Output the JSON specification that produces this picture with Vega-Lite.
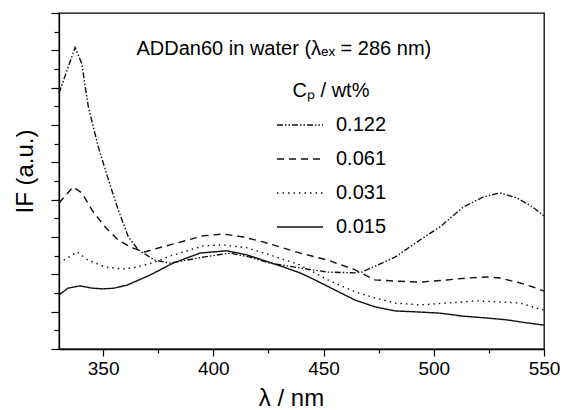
{
  "$schema": "https://vega.github.io/schema/vega-lite/v6.json",
  "width": 485,
  "height": 336,
  "autosize": "none",
  "padding": {"left": 59, "top": 13, "right": 19, "bottom": 61},
  "background": "white",
  "config": {
    "font": "Liberation Sans",
    "view": {"stroke": "#000", "strokeWidth": 1.3},
    "axis": {"domainColor": "#000", "domainWidth": 1.3, "tickColor": "#000", "tickWidth": 1.2, "labelColor": "#000", "titleColor": "#000", "grid": false, "titleFontWeight": "normal"}
  },
  "datasets": {
    "spectra": [
      {"cp": "0.122", "wl": 330, "i": 6.85}, {"cp": "0.122", "wl": 337.3, "i": 8.08}, {"cp": "0.122", "wl": 340.3, "i": 7.65}, {"cp": "0.122", "wl": 343.3, "i": 6.49}, {"cp": "0.122", "wl": 347.8, "i": 5.42}, {"cp": "0.122", "wl": 352.4, "i": 4.53}, {"cp": "0.122", "wl": 356.9, "i": 3.72}, {"cp": "0.122", "wl": 361.4, "i": 3.01}, {"cp": "0.122", "wl": 366, "i": 2.65}, {"cp": "0.122", "wl": 373.5, "i": 2.38}, {"cp": "0.122", "wl": 380.4, "i": 2.30}, {"cp": "0.122", "wl": 395.3, "i": 2.46}, {"cp": "0.122", "wl": 407.6, "i": 2.57}, {"cp": "0.122", "wl": 416.6, "i": 2.46}, {"cp": "0.122", "wl": 425.7, "i": 2.30}, {"cp": "0.122", "wl": 439.3, "i": 2.17}, {"cp": "0.122", "wl": 452, "i": 2.06}, {"cp": "0.122", "wl": 464.3, "i": 2.04}, {"cp": "0.122", "wl": 467.4, "i": 2.06}, {"cp": "0.122", "wl": 482.4, "i": 2.46}, {"cp": "0.122", "wl": 493.7, "i": 2.92}, {"cp": "0.122", "wl": 502.8, "i": 3.27}, {"cp": "0.122", "wl": 513.3, "i": 3.80}, {"cp": "0.122", "wl": 522.3, "i": 4.07}, {"cp": "0.122", "wl": 530, "i": 4.18}, {"cp": "0.122", "wl": 537.7, "i": 4.05}, {"cp": "0.122", "wl": 545, "i": 3.80}, {"cp": "0.122", "wl": 550, "i": 3.56},
      {"cp": "0.061", "wl": 330, "i": 3.91}, {"cp": "0.061", "wl": 336.4, "i": 4.34}, {"cp": "0.061", "wl": 340.4, "i": 4.18}, {"cp": "0.061", "wl": 345, "i": 3.72}, {"cp": "0.061", "wl": 350.9, "i": 3.27}, {"cp": "0.061", "wl": 356.8, "i": 2.92}, {"cp": "0.061", "wl": 363.1, "i": 2.71}, {"cp": "0.061", "wl": 369, "i": 2.60}, {"cp": "0.061", "wl": 373.5, "i": 2.68}, {"cp": "0.061", "wl": 380.4, "i": 2.79}, {"cp": "0.061", "wl": 395.3, "i": 3.03}, {"cp": "0.061", "wl": 404.4, "i": 3.08}, {"cp": "0.061", "wl": 413.5, "i": 3.00}, {"cp": "0.061", "wl": 422.5, "i": 2.87}, {"cp": "0.061", "wl": 431.6, "i": 2.71}, {"cp": "0.061", "wl": 439.3, "i": 2.57}, {"cp": "0.061", "wl": 452, "i": 2.38}, {"cp": "0.061", "wl": 464.3, "i": 2.12}, {"cp": "0.061", "wl": 473.3, "i": 1.85}, {"cp": "0.061", "wl": 482.4, "i": 1.82}, {"cp": "0.061", "wl": 493.7, "i": 1.79}, {"cp": "0.061", "wl": 506, "i": 1.85}, {"cp": "0.061", "wl": 515.1, "i": 1.90}, {"cp": "0.061", "wl": 524.1, "i": 1.93}, {"cp": "0.061", "wl": 530, "i": 1.90}, {"cp": "0.061", "wl": 539.1, "i": 1.77}, {"cp": "0.061", "wl": 545, "i": 1.66}, {"cp": "0.061", "wl": 550, "i": 1.55},
      {"cp": "0.031", "wl": 330, "i": 2.30}, {"cp": "0.031", "wl": 338.2, "i": 2.60}, {"cp": "0.031", "wl": 343.2, "i": 2.38}, {"cp": "0.031", "wl": 350.9, "i": 2.20}, {"cp": "0.031", "wl": 358.6, "i": 2.14}, {"cp": "0.031", "wl": 365.8, "i": 2.20}, {"cp": "0.031", "wl": 373.5, "i": 2.33}, {"cp": "0.031", "wl": 380.4, "i": 2.49}, {"cp": "0.031", "wl": 395.3, "i": 2.76}, {"cp": "0.031", "wl": 404.4, "i": 2.79}, {"cp": "0.031", "wl": 415.3, "i": 2.71}, {"cp": "0.031", "wl": 425.7, "i": 2.52}, {"cp": "0.031", "wl": 439.3, "i": 2.25}, {"cp": "0.031", "wl": 452, "i": 1.85}, {"cp": "0.031", "wl": 464.3, "i": 1.53}, {"cp": "0.031", "wl": 473.3, "i": 1.37}, {"cp": "0.031", "wl": 482.4, "i": 1.23}, {"cp": "0.031", "wl": 493.7, "i": 1.18}, {"cp": "0.031", "wl": 506, "i": 1.23}, {"cp": "0.031", "wl": 519.6, "i": 1.29}, {"cp": "0.031", "wl": 530, "i": 1.26}, {"cp": "0.031", "wl": 539.1, "i": 1.23}, {"cp": "0.031", "wl": 550, "i": 1.04},
      {"cp": "0.015", "wl": 330, "i": 1.45}, {"cp": "0.015", "wl": 334.1, "i": 1.63}, {"cp": "0.015", "wl": 339.5, "i": 1.69}, {"cp": "0.015", "wl": 345, "i": 1.63}, {"cp": "0.015", "wl": 350, "i": 1.61}, {"cp": "0.015", "wl": 355, "i": 1.63}, {"cp": "0.015", "wl": 360.8, "i": 1.71}, {"cp": "0.015", "wl": 371.3, "i": 1.98}, {"cp": "0.015", "wl": 381.7, "i": 2.30}, {"cp": "0.015", "wl": 394, "i": 2.57}, {"cp": "0.015", "wl": 406.2, "i": 2.63}, {"cp": "0.015", "wl": 415.3, "i": 2.52}, {"cp": "0.015", "wl": 422.5, "i": 2.38}, {"cp": "0.015", "wl": 431.6, "i": 2.20}, {"cp": "0.015", "wl": 439.3, "i": 2.04}, {"cp": "0.015", "wl": 446.1, "i": 1.85}, {"cp": "0.015", "wl": 455.2, "i": 1.58}, {"cp": "0.015", "wl": 464.3, "i": 1.31}, {"cp": "0.015", "wl": 473.3, "i": 1.13}, {"cp": "0.015", "wl": 482.4, "i": 1.02}, {"cp": "0.015", "wl": 493.7, "i": 0.99}, {"cp": "0.015", "wl": 502.8, "i": 0.96}, {"cp": "0.015", "wl": 513.3, "i": 0.88}, {"cp": "0.015", "wl": 524.1, "i": 0.83}, {"cp": "0.015", "wl": 533.2, "i": 0.78}, {"cp": "0.015", "wl": 542.2, "i": 0.70}, {"cp": "0.015", "wl": 550, "i": 0.64}
    ]
  },
  "layer": [
    {
      "data": {"name": "spectra"},
      "mark": {"type": "line", "color": "#111", "strokeWidth": 1.4},
      "encoding": {
        "x": {
          "field": "wl", "type": "quantitative",
          "scale": {"domain": [330, 550], "nice": false, "zero": false},
          "axis": {
            "title": "λ / nm", "values": [350, 375, 400, 425, 450, 475, 500, 525, 550], "tickCount": 60,
            "labelExpr": "datum.value % 50 === 0 ? datum.label : ''",
            "tickSize": {"condition": {"test": "datum.value % 50 === 0", "value": 7}, "value": 4},
            "labelFontSize": 19, "labelPadding": 3, "labelFlush": false, "labelOverlap": false,
            "titleFontSize": 24, "titleX": 232, "titleY": 56, "titleBaseline": "alphabetic"
          }
        },
        "y": {
          "field": "i", "type": "quantitative",
          "scale": {"domain": [0, 9], "nice": false},
          "axis": {
            "title": "IF (a.u.)", "labels": false, "tickCount": 60,
            "values": [0, 0.5, 1, 1.5, 2, 2.5, 3, 3.5, 4, 4.5, 5, 5.5, 6, 6.5, 7, 7.5, 8, 8.5, 9],
            "tickSize": {"condition": {"test": "datum.value % 1 === 0", "value": 8}, "value": 5},
            "titleFontSize": 24, "titleAngle": 270, "titleX": -27, "titleY": 158, "titleBaseline": "alphabetic"
          }
        },
        "strokeDash": {
          "field": "cp", "type": "nominal",
          "scale": {"domain": ["0.122", "0.061", "0.031", "0.015"], "range": [[6, 2, 1.5, 2, 1.5, 2], [7, 5], [1.5, 4], [1, 0]]},
          "legend": {
            "title": "Cₚ / wt%", "orient": "none", "legendX": 217, "legendY": 68,
            "symbolType": "stroke", "symbolSize": 2116, "symbolStrokeWidth": 1.4, "symbolStrokeColor": "#111",
            "labelFontSize": 20, "labelColor": "#000", "labelOffset": 12,
            "titleFontSize": 20, "titleFontWeight": "normal", "titleColor": "#000", "titleAnchor": "middle", "titlePadding": 0,
            "rowPadding": -15, "padding": 0
          }
        }
      }
    },
    {
      "data": {"values": [{}]},
      "mark": {"type": "text", "fontSize": 20, "align": "center", "baseline": "alphabetic", "color": "#000"},
      "encoding": {
        "x": {"datum": 432},
        "y": {"datum": 7.88},
        "text": {"value": "ADDan60 in water (λₑₓ = 286 nm)"}
      }
    }
  ]
}
